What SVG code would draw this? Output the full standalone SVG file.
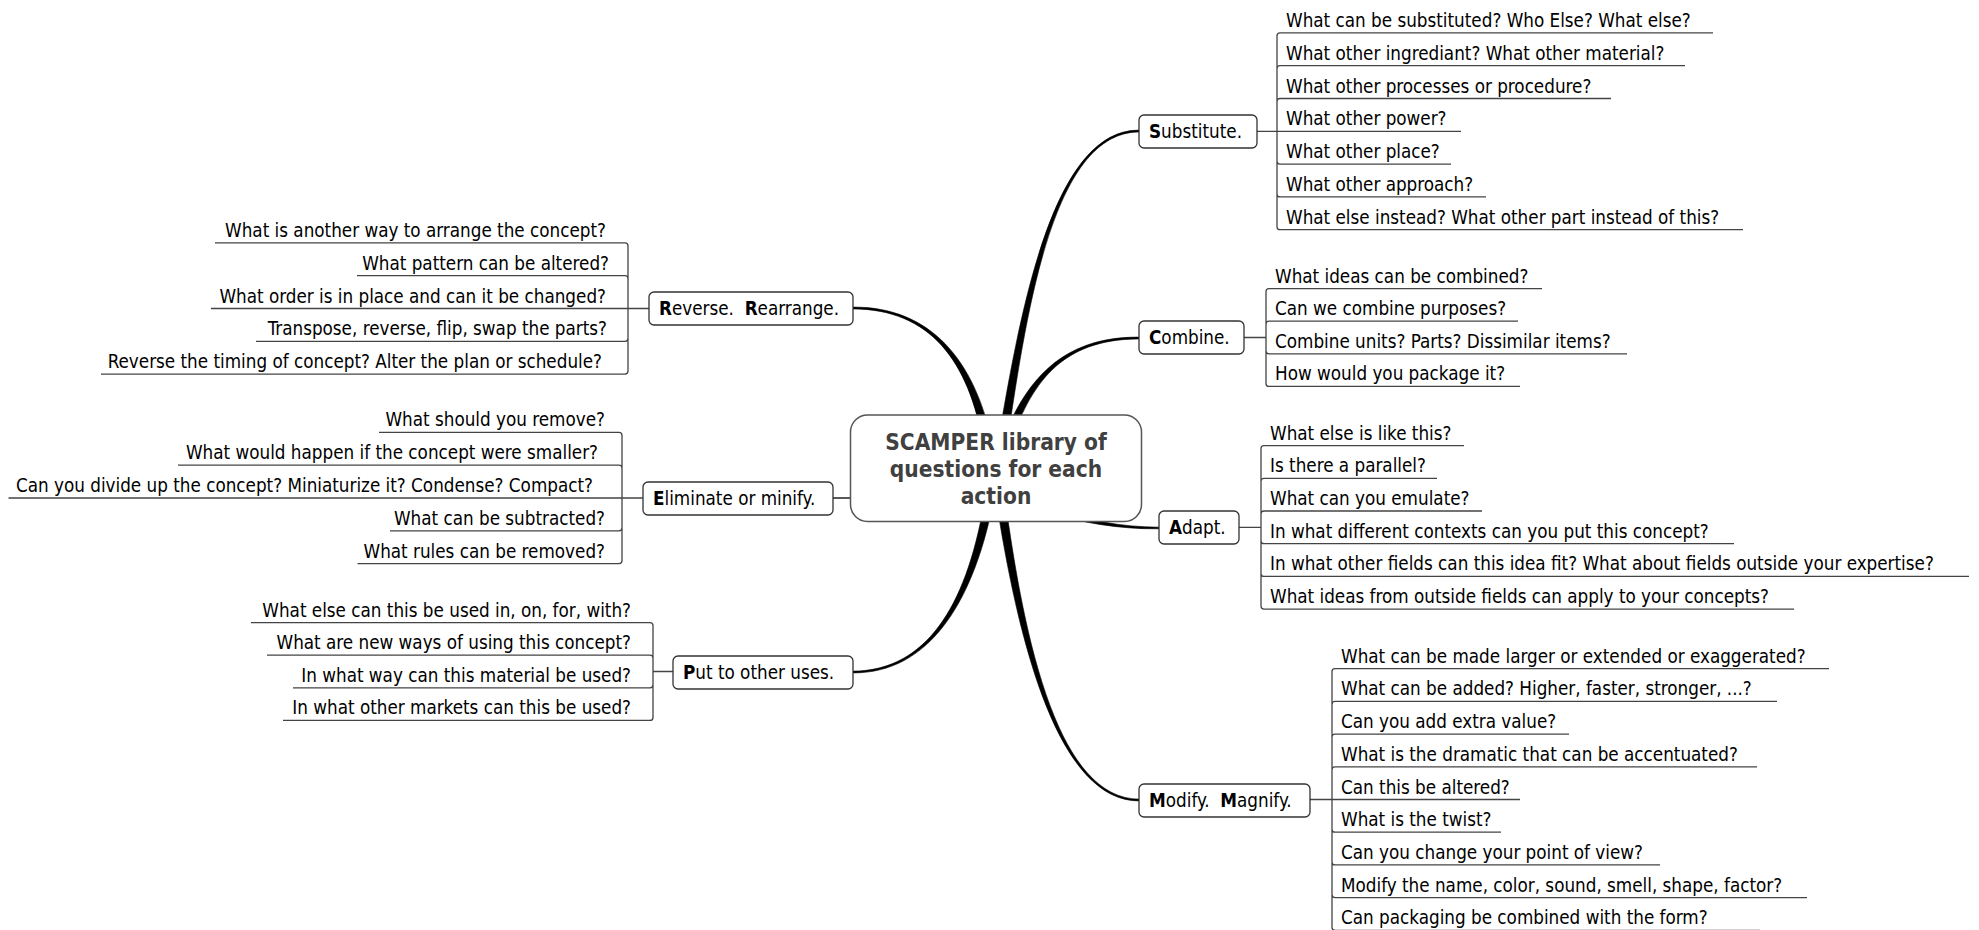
<svg xmlns="http://www.w3.org/2000/svg" width="1979" height="930" viewBox="0 0 1979 930">
<style>
.leaf{font-family:"DejaVu Sans Condensed","DejaVu Sans",sans-serif;font-size:18.7px;fill:#000}
.lend{text-anchor:end}
.lbl{font-family:"DejaVu Sans Condensed","DejaVu Sans",sans-serif;font-size:18.7px;fill:#000}
.b{font-weight:bold}
.title{font-family:"DejaVu Sans Condensed","DejaVu Sans",sans-serif;font-size:22.5px;font-weight:bold;fill:#404040;text-anchor:middle}
.box{fill:#fff;stroke:#333;stroke-width:1.3}
.cbox{fill:#fff;stroke:#555;stroke-width:1.5}
.tl{fill:none;stroke:#444;stroke-width:1.3}
.br{fill:#000;stroke:#000;stroke-width:0.6}
.thin{fill:none;stroke:#222;stroke-width:1.5}
</style>
<rect width="1979" height="930" fill="#fff"/>
<g id="connectors">
  <path class="br" d="M1007.45,440.7 C1027.96,300.47 1055,132.25 1139,131.9 L1139,130.1 C1055,129.75 1022.04,299.53 998.55,439.3 Z"/>
  <path class="br" d="M1009.22,446.57 C1030.81,384.04 1060,339.25 1139,338.9 L1139,337.1 C1060,336.75 1025.19,381.96 1000.78,443.43 Z"/>
  <path class="br" d="M1039.26,510.39 C1084.47,523.72 1120,529.1 1159,528.8 L1159,527.2 C1120,526.9 1085.53,520.28 1040.74,505.61 Z"/>
  <path class="br" d="M995.55,495.63 C1019.03,650.42 1060,801.25 1139,800.9 L1139,799.1 C1060,798.75 1024.97,649.58 1004.45,494.37 Z"/>
  <path class="br" d="M992.42,444.17 C974.95,359.44 930,306.75 853,307.1 L853,308.9 C930,309.25 969.05,360.56 983.58,445.83 Z"/>
  <path class="br" d="M985.56,494.24 C969.04,599.49 930,670.75 853,671.1 L853,672.9 C930,673.25 974.96,600.51 994.44,495.76 Z"/>
  <path class="thin" d="M833,498 H851"/>
  <path class="tl" d="M1257,131.3 H1277 M1277,131.3 V35.9 Q1277,32.9 1280,32.9 H1713 M1277,131.3 V68.7 Q1277,65.7 1280,65.7 H1685 M1277,131.3 V101.5 Q1277,98.5 1280,98.5 H1611 M1277,131.3 H1461 M1277,131.3 V161.1 Q1277,164.1 1280,164.1 H1451 M1277,131.3 V193.9 Q1277,196.9 1280,196.9 H1486 M1277,131.3 V226.7 Q1277,229.7 1280,229.7 H1743"/>
  <path class="tl" d="M1244,337.5 H1266 M1266,337.5 V291.6 Q1266,288.6 1269,288.6 H1542 M1266,337.5 V324.2 Q1266,321.2 1269,321.2 H1518 M1266,337.5 V350.8 Q1266,353.8 1269,353.8 H1627 M1266,337.5 V383.4 Q1266,386.4 1269,386.4 H1520"/>
  <path class="tl" d="M1239,527.3 H1261 M1261,527.3 V448.6 Q1261,445.6 1264,445.6 H1464 M1261,527.3 V481.3 Q1261,478.3 1264,478.3 H1437 M1261,527.3 V514 Q1261,511 1264,511 H1482 M1261,527.3 V540.7 Q1261,543.7 1264,543.7 H1734 M1261,527.3 V573.4 Q1261,576.4 1264,576.4 H1969 M1261,527.3 V606.1 Q1261,609.1 1264,609.1 H1794"/>
  <path class="tl" d="M1310,799.5 H1332 M1332,799.5 V671.7 Q1332,668.7 1335,668.7 H1829 M1332,799.5 V704.4 Q1332,701.4 1335,701.4 H1777 M1332,799.5 V737.1 Q1332,734.1 1335,734.1 H1569 M1332,799.5 V769.8 Q1332,766.8 1335,766.8 H1757 M1332,799.5 H1520 M1332,799.5 V829.2 Q1332,832.2 1335,832.2 H1501 M1332,799.5 V861.9 Q1332,864.9 1335,864.9 H1660 M1332,799.5 V894.6 Q1332,897.6 1335,897.6 H1807 M1332,799.5 V927.3 Q1332,930.3 1335,930.3 H1760"/>
  <path class="tl" d="M649,308.5 H628 M628,308.5 V245.9 Q628,242.9 625,242.9 H215 M628,308.5 V278.7 Q628,275.7 625,275.7 H357 M628,308.5 H211 M628,308.5 V338.3 Q628,341.3 625,341.3 H256 M628,308.5 V371.1 Q628,374.1 625,374.1 H101"/>
  <path class="tl" d="M643,498 H622 M622,498 V435.4 Q622,432.4 619,432.4 H379 M622,498 V468.2 Q622,465.2 619,465.2 H178 M622,498 H8.5 M622,498 V527.8 Q622,530.8 619,530.8 H390 M622,498 V560.6 Q622,563.6 619,563.6 H357.5"/>
  <path class="tl" d="M673,671.5 H653 M653,671.5 V625.6 Q653,622.6 650,622.6 H251 M653,671.5 V658.2 Q653,655.2 650,655.2 H267 M653,671.5 V684.8 Q653,687.8 650,687.8 H293 M653,671.5 V717.4 Q653,720.4 650,720.4 H283"/>
</g>
<g id="central">
  <rect class="cbox" x="850.5" y="415" width="291" height="106.5" rx="17"/>
  <text class="title" x="996" y="450">SCAMPER library of</text>
  <text class="title" x="996" y="477">questions for each</text>
  <text class="title" x="996" y="504">action</text>
</g>
<g id="substitute">
  <rect class="box" x="1139" y="115" width="118" height="33" rx="5"/>
  <text class="lbl" x="1149" y="137.7"><tspan class="b">S</tspan>ubstitute.</text>
</g>
<g id="combine">
  <rect class="box" x="1139" y="321" width="105" height="33" rx="5"/>
  <text class="lbl" x="1149" y="344"><tspan class="b">C</tspan>ombine.</text>
</g>
<g id="adapt">
  <rect class="box" x="1159" y="511" width="80" height="33" rx="5"/>
  <text class="lbl" x="1169" y="534"><tspan class="b">A</tspan>dapt.</text>
</g>
<g id="modify">
  <rect class="box" x="1139" y="784" width="171" height="33" rx="5"/>
  <text class="lbl" x="1149" y="807"><tspan class="b">M</tspan>odify.&#160; <tspan class="b">M</tspan>agnify.</text>
</g>
<g id="reverse">
  <rect class="box" x="649" y="292" width="204" height="33" rx="5"/>
  <text class="lbl" x="659" y="315"><tspan class="b">R</tspan>everse.&#160; <tspan class="b">R</tspan>earrange.</text>
</g>
<g id="eliminate">
  <rect class="box" x="643" y="482" width="190" height="33" rx="5"/>
  <text class="lbl" x="653" y="505"><tspan class="b">E</tspan>liminate or minify.</text>
</g>
<g id="put">
  <rect class="box" x="673" y="656" width="180" height="33" rx="5"/>
  <text class="lbl" x="683" y="678.5"><tspan class="b">P</tspan>ut to other uses.</text>
</g>
<g id="substitute-leaves">
  <g id="s1"><text class="leaf" x="1286" y="26.9">What can be substituted? Who Else? What else?</text></g>
  <g id="s2"><text class="leaf" x="1286" y="59.7">What other ingrediant? What other material?</text></g>
  <g id="s3"><text class="leaf" x="1286" y="92.5">What other processes or procedure?</text></g>
  <g id="s4"><text class="leaf" x="1286" y="125.3">What other power?</text></g>
  <g id="s5"><text class="leaf" x="1286" y="158.1">What other place?</text></g>
  <g id="s6"><text class="leaf" x="1286" y="190.9">What other approach?</text></g>
  <g id="s7"><text class="leaf" x="1286" y="223.7">What else instead? What other part instead of this?</text></g>
</g>
<g id="combine-leaves">
  <g id="c1"><text class="leaf" x="1275" y="282.6">What ideas can be combined?</text></g>
  <g id="c2"><text class="leaf" x="1275" y="315.2">Can we combine purposes?</text></g>
  <g id="c3"><text class="leaf" x="1275" y="347.8">Combine units? Parts? Dissimilar items?</text></g>
  <g id="c4"><text class="leaf" x="1275" y="380.4">How would you package it?</text></g>
</g>
<g id="adapt-leaves">
  <g id="a1"><text class="leaf" x="1270" y="439.6">What else is like this?</text></g>
  <g id="a2"><text class="leaf" x="1270" y="472.3">Is there a parallel?</text></g>
  <g id="a3"><text class="leaf" x="1270" y="505">What can you emulate?</text></g>
  <g id="a4"><text class="leaf" x="1270" y="537.7">In what different contexts can you put this concept?</text></g>
  <g id="a5"><text class="leaf" x="1270" y="570.4">In what other fields can this idea fit? What about fields outside your expertise?</text></g>
  <g id="a6"><text class="leaf" x="1270" y="603.1">What ideas from outside fields can apply to your concepts?</text></g>
</g>
<g id="modify-leaves">
  <g id="m1"><text class="leaf" x="1341" y="662.7">What can be made larger or extended or exaggerated?</text></g>
  <g id="m2"><text class="leaf" x="1341" y="695.4">What can be added? Higher, faster, stronger, ...?</text></g>
  <g id="m3"><text class="leaf" x="1341" y="728.1">Can you add extra value?</text></g>
  <g id="m4"><text class="leaf" x="1341" y="760.8">What is the dramatic that can be accentuated?</text></g>
  <g id="m5"><text class="leaf" x="1341" y="793.5">Can this be altered?</text></g>
  <g id="m6"><text class="leaf" x="1341" y="826.2">What is the twist?</text></g>
  <g id="m7"><text class="leaf" x="1341" y="858.9">Can you change your point of view?</text></g>
  <g id="m8"><text class="leaf" x="1341" y="891.6">Modify the name, color, sound, smell, shape, factor?</text></g>
  <g id="m9"><text class="leaf" x="1341" y="924.3">Can packaging be combined with the form?</text></g>
</g>
<g id="reverse-leaves">
  <g id="r1"><text class="leaf lend" x="606" y="236.9">What is another way to arrange the concept?</text></g>
  <g id="r2"><text class="leaf lend" x="609" y="269.7">What pattern can be altered?</text></g>
  <g id="r3"><text class="leaf lend" x="606" y="302.5">What order is in place and can it be changed?</text></g>
  <g id="r4"><text class="leaf lend" x="607" y="335.3">Transpose, reverse, flip, swap the parts?</text></g>
  <g id="r5"><text class="leaf lend" x="602" y="368.1">Reverse the timing of concept? Alter the plan or schedule?</text></g>
</g>
<g id="eliminate-leaves">
  <g id="e1"><text class="leaf lend" x="605" y="426.4">What should you remove?</text></g>
  <g id="e2"><text class="leaf lend" x="598" y="459.2">What would happen if the concept were smaller?</text></g>
  <g id="e3"><text class="leaf lend" x="593" y="492">Can you divide up the concept? Miniaturize it? Condense? Compact?</text></g>
  <g id="e4"><text class="leaf lend" x="605" y="524.8">What can be subtracted?</text></g>
  <g id="e5"><text class="leaf lend" x="605" y="557.6">What rules can be removed?</text></g>
</g>
<g id="put-leaves">
  <g id="p1"><text class="leaf lend" x="631" y="616.6">What else can this be used in, on, for, with?</text></g>
  <g id="p2"><text class="leaf lend" x="631" y="649.2">What are new ways of using this concept?</text></g>
  <g id="p3"><text class="leaf lend" x="631" y="681.8">In what way can this material be used?</text></g>
  <g id="p4"><text class="leaf lend" x="631" y="714.4">In what other markets can this be used?</text></g>
</g>
</svg>
